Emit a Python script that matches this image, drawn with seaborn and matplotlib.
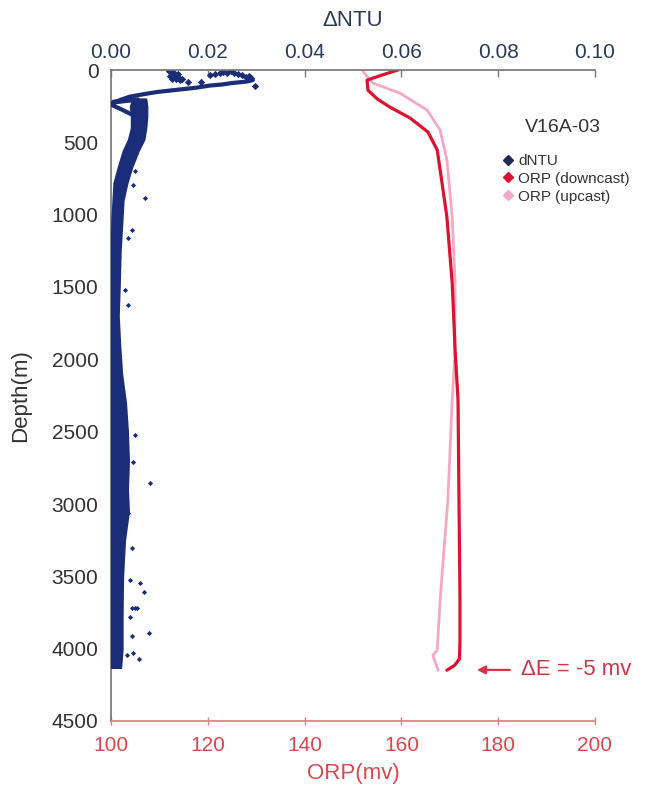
import numpy as np
import pandas as pd
import matplotlib
matplotlib.use("Agg")
import matplotlib.pyplot as plt
from matplotlib.lines import Line2D
import seaborn as sns

# ---------------- data ----------------
# ORP downcast (mv) vs depth (m)
orp_down = [159.3, 156.0, 152.9, 153.1, 155.0, 157.6, 161.8, 165.5, 167.4, 168.4, 169.4,
            170.5, 171.1, 171.7, 171.9, 172.1, 172.1, 172.0, 171.0, 169.4]
orp_down_depth = [0, 35, 70, 140, 200, 256, 332, 429, 553, 782, 1017,
                  1473, 1936, 2282, 2974, 3665, 3942, 4070, 4115, 4149]
# ORP upcast (mv) vs depth (m)
orp_up = [152.0, 154.1, 159.7, 165.3, 168.0, 169.4, 170.5, 171.1, 171.0, 170.5,
          169.6, 168.6, 168.0, 167.4, 166.5, 167.0, 167.6]
orp_up_depth = [7, 90, 160, 277, 415, 622, 1017, 1473, 2000, 2282,
                2974, 3400, 3665, 4011, 4046, 4094, 4149]

# dNTU dense band (left / right edge) vs depth
band_depth = [200, 250, 320, 400, 480, 560, 670, 780, 900, 1020, 1250, 1500, 1700,
              1900, 2100, 2300, 2500, 2700, 2900, 3050, 3250, 3500, 3750, 4000, 4130]
band_lo = [0.0045, 0.0040, 0.0042, 0.0042, 0.0036, 0.0025, 0.0015, 0.0006, 0.0004,
           0.0002, 0.0000, -0.0002, -0.0004, -0.0006, -0.0005, -0.0003, -0.0001,
           0.0000, 0.0000, 0.0000, -0.0002, -0.0003, -0.0004, -0.0004, -0.0003]
band_hi = [0.0072, 0.0074, 0.0074, 0.0072, 0.0068, 0.0056, 0.0043, 0.0033, 0.0025,
           0.0023, 0.0019, 0.0017, 0.0015, 0.0018, 0.0022, 0.0030, 0.0034, 0.0036,
           0.0034, 0.0036, 0.0028, 0.0024, 0.0023, 0.0023, 0.0020]

# dNTU trail near surface
trail_ntu = [0.0293, 0.0280, 0.0250, 0.0230, 0.0203, 0.0177, 0.0150, 0.0122, 0.0095,
             0.0066, 0.0039, 0.0019, 0.0005, 0.0002, 0.0020, 0.0045]
trail_depth = [70, 80, 90, 100, 108, 122, 132, 142, 152, 168, 184, 207, 228, 242, 270, 311]
loop_ntu = [0.0005, 0.0030, 0.0055]
loop_depth = [222, 212, 205]

# dNTU surface clusters and scattered points
surf_ntu = [0.0120, 0.0125, 0.0130, 0.0138, 0.0128, 0.0122, 0.0130, 0.0140, 0.0146,
            0.0142, 0.0125, 0.0135, 0.0205, 0.0215, 0.0225, 0.0232, 0.0240, 0.0248,
            0.0255, 0.0262, 0.0270, 0.0278, 0.0285, 0.0290, 0.0298, 0.0160, 0.0185]
surf_depth = [8, 14, 20, 28, 36, 42, 50, 55, 62, 70, 60, 65, 35, 25, 18, 12, 20, 10,
              22, 30, 38, 45, 40, 55, 111, 82, 86]
out_ntu = [0.0058, 0.0050, 0.0048, 0.0045, 0.0070, 0.0043, 0.0035, 0.0029, 0.0035,
           0.0050, 0.0045, 0.0080, 0.0035, 0.0043, 0.0039, 0.0060, 0.0068, 0.0043,
           0.0050, 0.0054, 0.0039, 0.0079, 0.0043, 0.0033, 0.0045, 0.0058]
out_depth = [450, 700, 610, 795, 885, 1106, 1161, 1520, 1624, 2523, 2710, 2855, 3062,
             3304, 3525, 3546, 3608, 3719, 3719, 3719, 3781, 3892, 3912, 4044, 4030, 4071]

# ---------------- style ----------------
sns.set_theme(style="white")
plt.rcParams["font.family"] = ["Liberation Sans", "DejaVu Sans"]

NAVY = "#1b2d78"
RED = "#dc1230"
PINK = "#f4a8c8"
LBLRED = "#d9474f"
TOPC = "#2b3a55"

fig = plt.figure(figsize=(6.71, 7.91), dpi=100)
ax = fig.add_axes([111 / 671, 1 - 721 / 791, 484 / 671, 651 / 791])
ax2 = ax.twiny()

# ORP profiles on bottom axis
d_down = pd.DataFrame({"orp": orp_down, "depth": orp_down_depth})
d_up = pd.DataFrame({"orp": orp_up, "depth": orp_up_depth})
sns.lineplot(data=d_up, x="orp", y="depth", sort=False, estimator=None,
             color=PINK, lw=2.0, ax=ax)
sns.lineplot(data=d_down, x="orp", y="depth", sort=False, estimator=None,
             color=RED, lw=2.3, ax=ax)

ax.set_xlim(100, 200)
ax.set_ylim(4500, 0)
ax.set_xticks([100, 120, 140, 160, 180, 200])
ax.set_yticks(np.arange(0, 4501, 500))
ax.set_xlabel("ORP(mv)", fontsize=16, color=LBLRED)
ax.set_ylabel("Depth(m)", fontsize=16, color="#333333")
ax.xaxis.set_label_coords(0.5, -0.064)
ax.yaxis.set_label_coords(-0.165, 0.5)
ax.tick_params(axis="x", direction="inout", length=6, width=1, colors="#e08080",
               labelcolor=LBLRED, labelsize=15, pad=8)
ax.tick_params(axis="y", direction="inout", length=6, width=1, colors="#777777",
               labelcolor="#333333", labelsize=15, pad=6)
ax.spines["right"].set_visible(False)
ax.spines["top"].set_visible(False)
ax.spines["bottom"].set_color("#e08080")
ax.spines["left"].set_color("#777777")

# dNTU on top axis
ax2.fill_betweenx(band_depth, band_lo, band_hi, color=NAVY, lw=1.5, edgecolor=NAVY)
d_tr = pd.DataFrame({"ntu": trail_ntu, "depth": trail_depth})
sns.lineplot(data=d_tr, x="ntu", y="depth", sort=False, estimator=None,
             color=NAVY, lw=3.0, ax=ax2)
d_lp = pd.DataFrame({"ntu": loop_ntu, "depth": loop_depth})
sns.lineplot(data=d_lp, x="ntu", y="depth", sort=False, estimator=None,
             color=NAVY, lw=3.5, ax=ax2)
d_sf = pd.DataFrame({"ntu": surf_ntu, "depth": surf_depth})
sns.scatterplot(data=d_sf, x="ntu", y="depth", marker="D", s=14, color=NAVY,
                edgecolor=NAVY, linewidth=0, ax=ax2)
d_out = pd.DataFrame({"ntu": out_ntu, "depth": out_depth})
sns.scatterplot(data=d_out, x="ntu", y="depth", marker="D", s=7, color=NAVY,
                edgecolor=NAVY, linewidth=0, ax=ax2)
ax2.set_xlim(0, 0.10)
ax2.set_ylim(4500, 0)
ax2.set_xticks([0.0, 0.02, 0.04, 0.06, 0.08, 0.10])
ax2.set_xticklabels(["0.00", "0.02", "0.04", "0.06", "0.08", "0.10"])
ax2.set_xlabel("ΔNTU", fontsize=16, color=TOPC)
ax2.xaxis.set_label_coords(0.5, 1.068)
ax2.tick_params(axis="x", direction="in", length=5, width=1, colors="#777777",
                labelcolor=TOPC, labelsize=15, pad=6)
for s in ["right", "bottom", "left"]:
    ax2.spines[s].set_visible(False)
ax2.spines["top"].set_color("#777777")

# legend
fig.text(563 / 671, 1 - 127 / 791, "V16A-03", fontsize=14, color="#333333",
         ha="center", va="center")
handles = [Line2D([], [], ls="", marker="D", ms=5, color="#1c2b5a"),
           Line2D([], [], ls="", marker="D", ms=5, color=RED),
           Line2D([], [], ls="", marker="D", ms=5, color=PINK)]
leg = ax2.legend(handles, ["dNTU", "ORP (downcast)", "ORP (upcast)"],
                 frameon=False, fontsize=11,
                 loc="upper left", bbox_to_anchor=(500 / 671, 1 - 154 / 791),
                 bbox_transform=fig.transFigure, handletextpad=0.2,
                 handlelength=1.0, labelspacing=0.25, borderaxespad=0,
                 borderpad=0)
for t in leg.get_texts():
    t.set_color("#333333")

# annotation
ax.annotate("", xy=(175.6, 4147), xytext=(182.4, 4147),
            arrowprops=dict(arrowstyle="-|>", color="#e03048", lw=1.6,
                            mutation_scale=12, shrinkA=0, shrinkB=0))
ax.text(184.8, 4147, "ΔE = -5 mv", color="#c8384a", fontsize=16,
        ha="left", va="center")

fig.savefig("out.png", dpi=100)
